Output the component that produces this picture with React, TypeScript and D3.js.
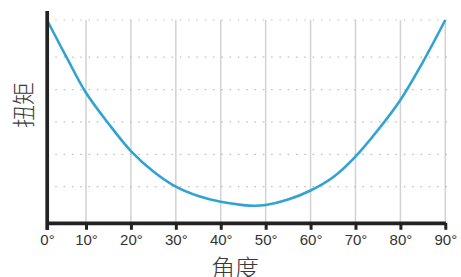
import * as d3 from "d3";
import { useEffect, useRef } from "react";

// angle (deg) -> torque
const angles = [0, 5, 10, 15, 20, 25, 30, 35, 40, 45, 47.5, 50, 55, 60, 65, 70, 75, 80, 85, 90];
const torque = [6.15, 5.0, 3.9, 2.95, 2.1, 1.47, 1.0, 0.71, 0.53, 0.43, 0.41, 0.43, 0.6, 0.88, 1.29, 1.93, 2.75, 3.68, 4.85, 6.15];
const xTicks = [0, 10, 20, 30, 40, 50, 60, 70, 80, 90];
const yGrid = [1, 2, 3, 4, 5];
const yMax = 6.15;
const xTitle = "角度";
const yTitle = "扭矩";

const W = 461, H = 277;

export default function App() {
    const ref = useRef<SVGSVGElement>(null);

    useEffect(() => {
        drawChart();
    }, []);

    function drawChart() {
        const svg = d3.select(ref.current);
        svg.selectAll("*").remove();

        const x = d3.scaleLinear().domain([0, 10, 90]).range([47, 86, 445.3]);
        const y = d3.scaleLinear().domain([0, yMax]).range([219, 20]);
        const axisY = 222.8;

        // vertical grid
        svg.append("g").selectAll("line").data(xTicks.slice(1)).enter().append("line")
            .attr("x1", d => x(d)).attr("x2", d => x(d))
            .attr("y1", y(yMax)).attr("y2", axisY)
            .attr("stroke", "#d2d2d2").attr("stroke-width", 1.5);

        // dotted horizontal grid
        svg.append("g").selectAll("line").data([...yGrid, yMax]).enter().append("line")
            .attr("x1", x(0)).attr("x2", 447)
            .attr("y1", d => y(d)).attr("y2", d => y(d))
            .attr("stroke", "#bdbdbd").attr("stroke-width", 1.2)
            .attr("stroke-dasharray", "1.5,6.8");

        // curve
        const line = d3.line<number>()
            .x((d, i) => x(angles[i]))
            .y(d => y(d))
            .curve(d3.curveCatmullRom.alpha(0.5));
        svg.append("path").datum(torque)
            .attr("d", line)
            .attr("fill", "none")
            .attr("stroke", "#31a3d2")
            .attr("stroke-width", 2.6);

        // x axis
        const gx = svg.append("g").attr("transform", "translate(0," + axisY + ")")
            .call(d3.axisBottom(x).tickValues(xTicks).tickFormat(d => d + "°").tickSize(7).tickSizeOuter(0).tickPadding(5));
        gx.select(".domain").attr("stroke", "#222").attr("stroke-width", 3.7);
        gx.selectAll(".tick line").attr("stroke", "#222").attr("stroke-width", 3);
        gx.selectAll(".tick text")
            .style("font", "15px 'Liberation Sans', Arial, sans-serif")
            .attr("fill", "#333");

        // y axis line
        svg.append("line")
            .attr("x1", x(0) + 0.2).attr("x2", x(0) + 0.2)
            .attr("y1", 11).attr("y2", 230)
            .attr("stroke", "#222").attr("stroke-width", 3.7);

        // titles
        svg.append("text")
            .attr("transform", "translate(22,105) rotate(-90)")
            .attr("text-anchor", "middle")
            .attr("dominant-baseline", "central")
            .style("font", "300 23px 'Noto Sans CJK SC', sans-serif")
            .attr("fill", "#3a3a3a")
            .text(yTitle);
        svg.append("text")
            .attr("x", 235).attr("y", 277)
            .attr("text-anchor", "middle")
            .style("font", "300 24px 'Noto Sans CJK SC', sans-serif")
            .attr("fill", "#3a3a3a")
            .text(xTitle);
    }

    return (
        <svg ref={ref} width={W} height={H}
            style={{ position: "absolute", left: 0, top: 0, background: "#fff" }}>
        </svg>
    );
}
